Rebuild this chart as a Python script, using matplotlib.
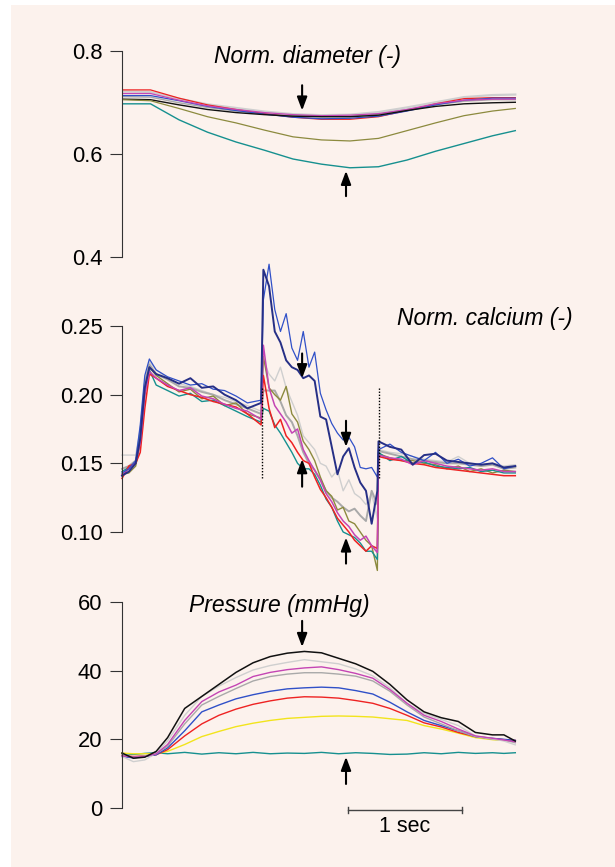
import matplotlib
matplotlib.use('Agg')
import matplotlib.pyplot as plt
from matplotlib.patches import Rectangle

plt.rcParams['font.family'] = ['Liberation Sans', 'DejaVu Sans']

# colours of the recordings
c_black = '#111111'
c_lgray = '#cfcfcf'
c_gray = '#a9a9a9'
c_magenta = '#c445b4'
c_blue = '#3050c8'
c_navy = '#262f86'
c_red = '#ee2222'
c_yellow = '#f2e41c'
c_teal = '#16908f'
c_olive = '#8c8a3e'

#-----diameter-----#
diam_t = [0.00, 0.25, 0.50, 0.75, 1.00, 1.25, 1.50, 1.75, 2.00, 2.25, 2.50, 2.75, 3.00, 3.25, 3.45]
diam_red = [0.724, 0.724, 0.708, 0.695, 0.686, 0.678, 0.671, 0.667, 0.667, 0.672, 0.684, 0.697, 0.707, 0.709, 0.709]
diam_magenta = [0.717, 0.717, 0.704, 0.693, 0.686, 0.680, 0.676, 0.674, 0.675, 0.678, 0.686, 0.697, 0.704, 0.706, 0.706]
diam_blue = [0.713, 0.713, 0.703, 0.692, 0.684, 0.677, 0.671, 0.668, 0.669, 0.673, 0.683, 0.695, 0.704, 0.708, 0.708]
diam_lgray = [0.721, 0.720, 0.707, 0.696, 0.689, 0.682, 0.677, 0.675, 0.676, 0.681, 0.690, 0.700, 0.710, 0.714, 0.715]
diam_gray = [0.711, 0.710, 0.699, 0.690, 0.683, 0.678, 0.674, 0.672, 0.673, 0.677, 0.686, 0.695, 0.702, 0.705, 0.705]
diam_black = [0.706, 0.705, 0.695, 0.686, 0.680, 0.676, 0.673, 0.672, 0.672, 0.675, 0.684, 0.692, 0.697, 0.699, 0.700]
diam_olive = [0.705, 0.703, 0.688, 0.672, 0.660, 0.646, 0.633, 0.627, 0.625, 0.630, 0.645, 0.660, 0.674, 0.683, 0.688]
diam_teal = [0.697, 0.697, 0.666, 0.642, 0.623, 0.607, 0.590, 0.580, 0.573, 0.575, 0.588, 0.605, 0.620, 0.635, 0.645]

#-----calcium-----#
ca_t = [0.00, 0.06, 0.12, 0.16, 0.20, 0.24, 0.30, 0.40, 0.50, 0.60, 0.70, 0.80, 0.90, 1.00, 1.10, 1.22,
        1.24, 1.29, 1.34, 1.39, 1.44, 1.49, 1.54, 1.59, 1.64, 1.69, 1.74, 1.79, 1.84, 1.89, 1.94, 1.99,
        2.04, 2.09, 2.14, 2.19, 2.24,
        2.25, 2.35, 2.45, 2.55, 2.65, 2.75, 2.85, 2.95, 3.05, 3.15, 3.25, 3.35, 3.45]
ca_navy = [0.141, 0.144, 0.150, 0.168, 0.205, 0.220, 0.215, 0.212, 0.208, 0.212, 0.205, 0.206, 0.200, 0.196, 0.190, 0.194,
           0.291, 0.279, 0.246, 0.238, 0.225, 0.220, 0.218, 0.212, 0.214, 0.210, 0.184, 0.182, 0.162, 0.142, 0.155, 0.161,
           0.147, 0.136, 0.130, 0.106, 0.130,
           0.166, 0.162, 0.160, 0.149, 0.156, 0.157, 0.152, 0.151, 0.150, 0.149, 0.150, 0.147, 0.148]
ca_blue = [0.143, 0.146, 0.152, 0.178, 0.214, 0.226, 0.218, 0.213, 0.210, 0.207, 0.208, 0.204, 0.203, 0.199, 0.194, 0.196,
           0.269, 0.295, 0.262, 0.246, 0.259, 0.234, 0.225, 0.246, 0.220, 0.231, 0.201, 0.189, 0.179, 0.172, 0.167, 0.169,
           0.162, 0.147, 0.146, 0.147, 0.140,
           0.160, 0.164, 0.158, 0.155, 0.152, 0.158, 0.150, 0.153, 0.148, 0.150, 0.154, 0.146, 0.148]
ca_magenta = [0.142, 0.146, 0.151, 0.165, 0.200, 0.217, 0.212, 0.207, 0.203, 0.205, 0.199, 0.197, 0.193, 0.190, 0.188, 0.182,
              0.236, 0.205, 0.192, 0.186, 0.180, 0.172, 0.175, 0.160, 0.152, 0.145, 0.138, 0.128, 0.122, 0.114, 0.108, 0.104,
              0.098, 0.094, 0.097, 0.090, 0.085,
              0.156, 0.154, 0.153, 0.149, 0.152, 0.150, 0.148, 0.147, 0.146, 0.145, 0.146, 0.144, 0.144]
ca_red = [0.139, 0.148, 0.150, 0.158, 0.190, 0.215, 0.212, 0.206, 0.203, 0.200, 0.198, 0.195, 0.193, 0.191, 0.186, 0.178,
          0.214, 0.190, 0.176, 0.182, 0.170, 0.165, 0.158, 0.152, 0.150, 0.140, 0.131, 0.125, 0.118, 0.110, 0.105, 0.100,
          0.094, 0.090, 0.086, 0.090, 0.088,
          0.155, 0.153, 0.152, 0.150, 0.149, 0.147, 0.146, 0.145, 0.144, 0.143, 0.142, 0.141, 0.141]
ca_teal = [0.144, 0.147, 0.150, 0.170, 0.205, 0.218, 0.207, 0.203, 0.199, 0.201, 0.195, 0.196, 0.192, 0.188, 0.184, 0.180,
           0.190, 0.188, 0.178, 0.172, 0.165, 0.158, 0.150, 0.146, 0.146, 0.142, 0.134, 0.124, 0.118, 0.108, 0.100, 0.098,
           0.096, 0.092, 0.086, 0.086, 0.080,
           0.158, 0.152, 0.155, 0.150, 0.151, 0.148, 0.147, 0.146, 0.147, 0.144, 0.145, 0.143, 0.143]
ca_olive = [0.142, 0.143, 0.148, 0.165, 0.200, 0.220, 0.214, 0.208, 0.202, 0.204, 0.197, 0.199, 0.192, 0.194, 0.186, 0.183,
            0.228, 0.205, 0.200, 0.196, 0.206, 0.186, 0.180, 0.166, 0.160, 0.152, 0.140, 0.130, 0.126, 0.116, 0.118, 0.108,
            0.106, 0.100, 0.094, 0.090, 0.072,
            0.157, 0.154, 0.152, 0.152, 0.150, 0.149, 0.146, 0.148, 0.144, 0.146, 0.143, 0.145, 0.144]
ca_gray = [0.146, 0.148, 0.152, 0.172, 0.208, 0.222, 0.215, 0.211, 0.206, 0.205, 0.202, 0.200, 0.196, 0.193, 0.190, 0.186,
           0.203, 0.203, 0.203, 0.195, 0.185, 0.180, 0.170, 0.158, 0.150, 0.145, 0.138, 0.130, 0.125, 0.122, 0.118, 0.115,
           0.117, 0.112, 0.108, 0.130, 0.120,
           0.159, 0.157, 0.155, 0.153, 0.152, 0.151, 0.150, 0.150, 0.149, 0.148, 0.149, 0.146, 0.147]
ca_lgray = [0.156, 0.156, 0.156, 0.175, 0.210, 0.224, 0.218, 0.212, 0.208, 0.206, 0.203, 0.200, 0.198, 0.195, 0.192, 0.188,
            0.225, 0.215, 0.210, 0.220, 0.205, 0.195, 0.185, 0.170, 0.165, 0.160, 0.150, 0.148, 0.140, 0.145, 0.130, 0.138,
            0.128, 0.125, 0.120, 0.128, 0.110,
            0.160, 0.158, 0.157, 0.155, 0.153, 0.152, 0.151, 0.155, 0.150, 0.149, 0.150, 0.148, 0.149]

#-----pressure-----#
p_t = [0.00, 0.10, 0.20, 0.30, 0.40, 0.55, 0.70, 0.85, 1.00, 1.15, 1.30, 1.45, 1.60, 1.75, 1.90, 2.05,
       2.20, 2.35, 2.50, 2.65, 2.80, 2.95, 3.10, 3.25, 3.35, 3.45]
p_black = [16.0, 14.5, 14.8, 16.5, 20.5, 29.0, 32.5, 36.0, 39.5, 42.3, 44.1, 45.1, 45.6, 45.2, 43.6, 42.0,
           39.8, 36.0, 31.5, 28.0, 26.3, 25.2, 22.0, 21.3, 21.3, 19.5]
p_lgray = [15.0, 13.5, 14.0, 16.0, 19.5, 27.0, 32.5, 35.5, 38.0, 40.2, 41.5, 42.4, 43.2, 42.6, 42.0, 40.5,
           38.5, 35.0, 30.5, 27.5, 25.8, 24.0, 21.0, 20.2, 19.5, 18.4]
p_magenta = [15.2, 14.8, 15.0, 15.8, 18.5, 25.5, 31.0, 33.8, 35.8, 38.3, 39.5, 40.3, 40.8, 41.1, 40.3, 39.2,
             37.8, 34.5, 30.5, 27.0, 25.2, 23.0, 21.0, 20.3, 19.8, 19.3]
p_gray = [15.5, 14.8, 15.2, 15.8, 18.0, 24.5, 30.0, 32.5, 34.8, 37.0, 38.3, 39.0, 39.4, 39.4, 39.0, 38.4,
          37.0, 34.0, 30.0, 26.5, 24.5, 22.5, 20.8, 20.0, 19.8, 19.0]
p_blue = [15.0, 14.6, 15.0, 15.5, 17.5, 22.5, 28.0, 30.0, 31.8, 33.0, 34.0, 34.7, 35.0, 35.2, 35.0, 34.2,
          33.2, 30.8, 28.0, 25.5, 24.0, 22.5, 20.8, 20.3, 20.0, 19.7]
p_red = [15.3, 15.0, 15.2, 15.5, 17.0, 21.0, 24.5, 27.0, 28.8, 30.2, 31.2, 32.0, 32.4, 32.3, 32.0, 31.3,
         30.5, 29.0, 27.0, 24.8, 23.6, 22.0, 20.8, 20.2, 19.9, 19.7]
p_yellow = [16.0, 15.8, 15.8, 15.8, 16.5, 18.5, 20.8, 22.3, 23.7, 24.7, 25.5, 26.1, 26.4, 26.7, 26.8, 26.7,
            26.5, 26.0, 25.5, 24.0, 23.0, 21.8, 20.5, 19.9, 19.7, 19.5]
p_teal = [15.9, 15.6, 15.9, 16.1, 15.8, 16.2, 15.7, 16.1, 15.8, 16.2, 15.8, 16.0, 15.9, 16.2, 15.8, 16.1,
          15.9, 15.6, 15.7, 16.1, 15.8, 16.2, 15.9, 16.1, 15.9, 16.1]

W, H = 615, 867
fig = plt.figure(figsize=(W / 100, H / 100), dpi=100, facecolor='white')
fig.patches.append(Rectangle((11 / W, 0), 1 - 11 / W, 1 - 5 / H, transform=fig.transFigure,
                             facecolor='#fcf2ed', edgecolor='none', zorder=-10))

left = 122 / W
width = 438 / W
xmax = 438 / 114.0   # 114 px = 1 sec


def make_ax(top_px, bot_px, ylim, ticks, labels):
    ax = fig.add_axes([left, 1 - bot_px / H, width, (bot_px - top_px) / H])
    ax.set_facecolor('none')
    ax.set_xlim(0, xmax)
    ax.set_ylim(*ylim)
    for s in ['top', 'right', 'bottom']:
        ax.spines[s].set_visible(False)
    ax.spines['left'].set_color('#333333')
    ax.spines['left'].set_linewidth(0.8)
    ax.set_xticks([])
    ax.set_yticks(ticks)
    ax.set_yticklabels(labels)
    ax.tick_params(axis='y', direction='out', length=8.6, width=0.8, color='#333333',
                   pad=5.5, labelsize=15.8)
    return ax


def arrow(ax, t, y0, y1):
    ax.annotate('', xy=(t, y1), xytext=(t, y0), annotation_clip=False,
                arrowprops=dict(arrowstyle='-|>,head_length=0.8,head_width=0.3',
                                color='black', lw=1.5, shrinkA=0, shrinkB=0))


# panel 1
ax1 = make_ax(50.7, 257, (0.4, 0.8), [0.4, 0.6, 0.8], ['0.4', '0.6', '0.8'])
for vals, col, lw in [(diam_lgray, c_lgray, 1.6), (diam_gray, c_gray, 1.0), (diam_red, c_red, 0.9),
                      (diam_blue, c_blue, 0.9), (diam_magenta, c_magenta, 0.9), (diam_black, c_black, 1.0),
                      (diam_olive, c_olive, 0.9), (diam_teal, c_teal, 1.0)]:
    ax1.plot(diam_t, vals, color=col, lw=lw)
ax1.text(1.63, 0.789, 'Norm. diameter (-)', ha='center', va='center', fontsize=16.5, style='italic')
arrow(ax1, 1.58, 0.733, 0.684)
arrow(ax1, 1.965, 0.518, 0.567)

# panel 2
ax2 = make_ax(326, 532, (0.10, 0.25), [0.10, 0.15, 0.20, 0.25], ['0.10', '0.15', '0.20', '0.25'])
for vals, col, lw in [(ca_lgray, c_lgray, 1.0), (ca_gray, c_gray, 1.4), (ca_olive, c_olive, 1.0),
                      (ca_teal, c_teal, 1.0), (ca_red, c_red, 1.1), (ca_magenta, c_magenta, 1.1),
                      (ca_blue, c_blue, 0.9), (ca_navy, c_navy, 1.4)]:
    ax2.plot(ca_t, vals, color=col, lw=lw, clip_on=False)
for tx in [1.23, 2.25]:
    ax2.plot([tx, tx], [0.139, 0.205], color='black', lw=1.0, ls=(0, (1, 1.2)), clip_on=False)
ax2.text(3.18, 0.2558, 'Norm. calcium (-)', ha='center', va='center', fontsize=16.5, style='italic')
arrow(ax2, 1.58, 0.230, 0.212)
arrow(ax2, 1.58, 0.133, 0.153)
arrow(ax2, 1.965, 0.181, 0.162)
arrow(ax2, 1.965, 0.077, 0.096)

# panel 3
ax3 = make_ax(602, 808, (0, 60), [0, 20, 40, 60], ['0', '20', '40', '60'])
for vals, col, lw in [(p_teal, c_teal, 1.0), (p_yellow, c_yellow, 1.0), (p_red, c_red, 1.0),
                      (p_blue, c_blue, 1.0), (p_gray, c_gray, 1.0), (p_lgray, c_lgray, 1.0),
                      (p_magenta, c_magenta, 1.0), (p_black, c_black, 1.1)]:
    ax3.plot(p_t, vals, color=col, lw=lw, clip_on=False)
ax3.text(1.38, 59.0, 'Pressure (mmHg)', ha='center', va='center', fontsize=16.5, style='italic')
arrow(ax3, 1.58, 54.5, 46.9)
arrow(ax3, 1.965, 7.0, 14.9)

# scale bar
ax3.plot([1.98, 2.98], [-0.6, -0.6], color='#444444', lw=1.0, clip_on=False)
for tx in [1.98, 2.98]:
    ax3.plot([tx, tx], [-1.6, 0.4], color='#444444', lw=1.0, clip_on=False)
ax3.text(2.48, -5.3, '1 sec', ha='center', va='center', fontsize=15.5)

fig.savefig('out.png', dpi=100, facecolor=fig.get_facecolor())
